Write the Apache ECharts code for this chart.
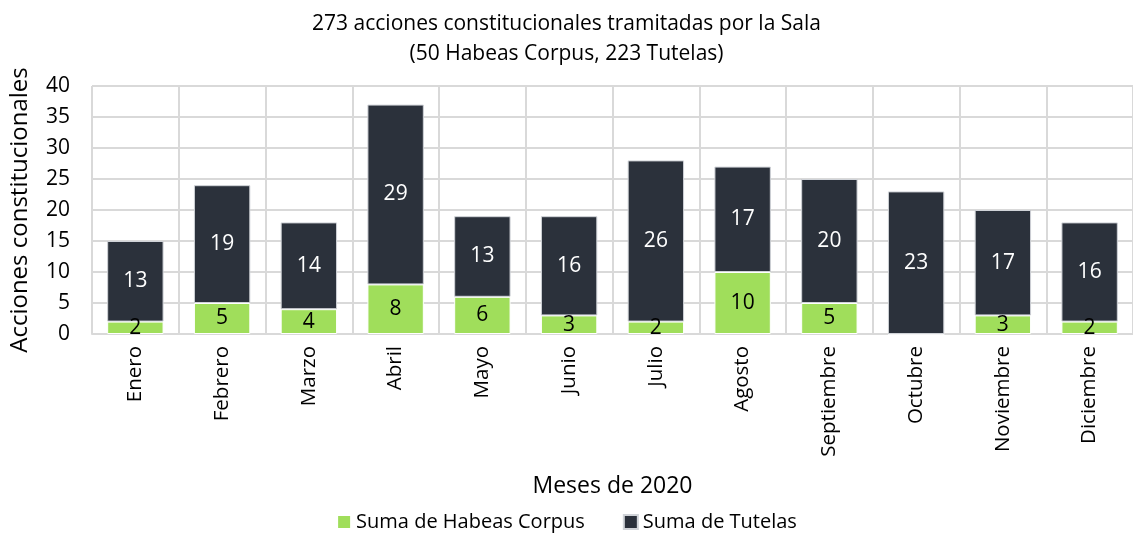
<!DOCTYPE html>
<html>
<head>
<meta charset="utf-8">
<script src="https://cdn.jsdelivr.net/npm/echarts@6/dist/echarts.min.js"></script>
<style>
  html, body { margin: 0; padding: 0; background: #fff; }
  #chart { width: 1133px; height: 537px; }
</style>
</head>
<body>
<div id="chart"></div>
<script>
const meses = ['Enero', 'Febrero', 'Marzo', 'Abril', 'Mayo', 'Junio', 'Julio', 'Agosto', 'Septiembre', 'Octubre', 'Noviembre', 'Diciembre']
const habeasCorpus = [2, 5, 4, 8, 6, 3, 2, 10, 5, 0, 3, 2]
const tutelas = [13, 19, 14, 29, 13, 16, 26, 17, 20, 23, 17, 16]

const font = '"Open Sans", "Noto Sans", sans-serif'
const chart = echarts.init(document.getElementById('chart'))

chart.setOption({
  textStyle: { fontFamily: font },
  title: {
    text: '273 acciones constitucionales tramitadas por la Sala\n(50 Habeas Corpus, 223 Tutelas)',
    left: 'center', top: 4,
    textStyle: { fontSize: 21, fontWeight: 'normal', color: '#000', lineHeight: 30, fontFamily: font },
  },
  legend: {
    bottom: 0, left: 'center', itemGap: 38, itemWidth: 14, itemHeight: 14,
    icon: 'rect',
    textStyle: { fontSize: 20, color: '#000', fontFamily: font },
    data: ['Suma de Habeas Corpus', 'Suma de Tutelas'],
  },
  grid: { left: 91, right: -1, top: 86, bottom: 203 },
  xAxis: {
    type: 'category', data: meses,
    name: 'Meses de 2020', nameLocation: 'middle', nameGap: 141,
    nameTextStyle: { fontSize: 23, color: '#000', fontFamily: font },
    axisTick: { show: false },
    axisLine: { lineStyle: { color: '#d9d9d9', width: 2 } },
    axisLabel: { rotate: 90, fontSize: 20.5, color: '#000', margin: 12 },
    splitLine: { show: true, lineStyle: { color: '#d9d9d9', width: 2 } },
  },
  yAxis: {
    type: 'value', min: 0, max: 40, interval: 5,
    name: 'Acciones constitucionales', nameLocation: 'middle', nameGap: 60,
    nameTextStyle: { fontSize: 24, color: '#000', fontFamily: font },
    axisLabel: { fontSize: 21, color: '#000', margin: 22 },
    splitLine: { lineStyle: { color: '#d9d9d9', width: 2 } },
  },
  series: [
    {
      name: 'Suma de Habeas Corpus', type: 'bar', stack: 'total', barWidth: '65%',
      data: habeasCorpus,
      itemStyle: { color: '#a0de5b', borderColor: '#fff', borderWidth: 1 },
      label: {
        show: true, position: 'inside', fontSize: 21, color: '#000',
        formatter: p => (p.value ? p.value : ''),
      },
    },
    {
      name: 'Suma de Tutelas', type: 'bar', stack: 'total', barWidth: '65%',
      data: tutelas,
      itemStyle: { color: '#2b313b', borderColor: '#d0d3d8', borderWidth: 1 },
      label: { show: true, position: 'inside', fontSize: 21, color: '#fff' },
    },
  ],
})
</script>
</body>
</html>
